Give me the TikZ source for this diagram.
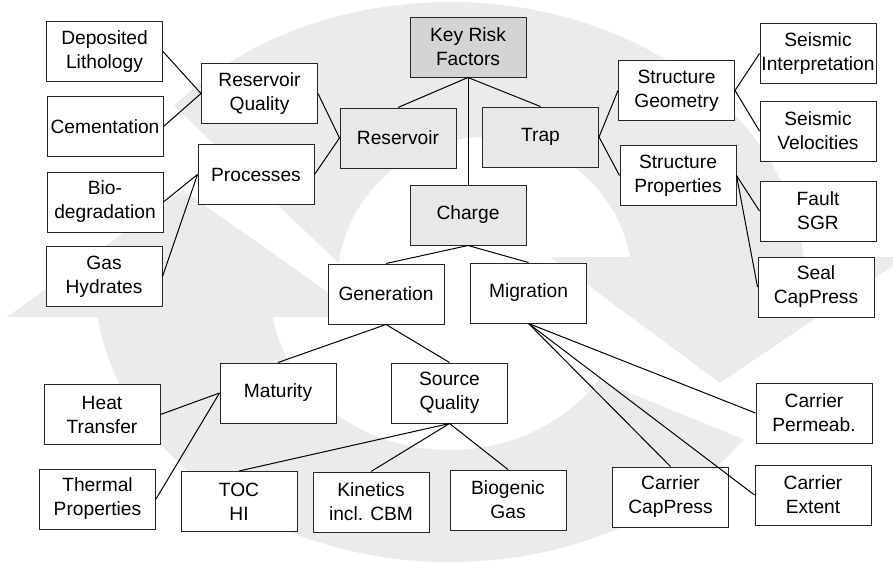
\documentclass[tikz,border=0pt]{standalone}
\usepackage{fontspec}
\setmainfont{Liberation Sans}
\definecolor{bggray}{RGB}{235,235,235}
\definecolor{boxgray}{RGB}{232,232,232}
\definecolor{rootgray}{RGB}{212,212,212}
\begin{document}
\begin{tikzpicture}[x=1pt,y=-1pt,
  box/.style={draw=black!85, line width=1pt, fill=white, minimum width=116pt,
    minimum height=60pt, inner xsep=0pt, inner ysep=2pt, align=center,
    font=\fontsize{19.2}{24}\selectfont},
  lvlone/.style={box, fill=boxgray},
  rootbox/.style={box, fill=rootgray},
  link/.style={line width=1pt, black}]
\useasboundingbox (0,0) rectangle (893,570);
% background double-arrow cycle
\fill[bggray] (174.1,105.8) arc[start angle=-141, end angle=-5.1, x radius=355, y radius=280]
  -- (906,257) -- (720,383) -- (550,257)
  -- (630.3,257) arc[start angle=-10.9, end angle=-171.5, radius=148] -- cycle;
\fill[bggray] (743.6,439.4) arc[start angle=34.2, end angle=172.8, x radius=355, y radius=280]
  -- (7,317) -- (183,190) -- (363,317)
  -- (272.6,317.2) arc[start angle=170.2, end angle=34.3, x radius=180, y radius=160] -- cycle;
% nodes
\node[rootbox] (krf) at (468,47) {Key Risk\\Factors};
\node[lvlone] (res) at (398,138) {Reservoir};
\node[lvlone] (trap) at (540.5,137) {Trap};
\node[lvlone] (charge) at (468,215) {Charge};
\node[box] (dep) at (104.5,51.5) {Deposited\\Lithology};
\node[box] (cem) at (105,126.5) {Cementation};
\node[box] (rq) at (259.5,93.5) {Reservoir\\Quality};
\node[box] (proc) at (256,174.5) {Processes};
\node[box] (bio) at (105,202) {Bio-\\degradation};
\node[box] (gas) at (104,276.5) {Gas\\Hydrates};
\node[box] (sg) at (676.5,90.5) {Structure\\Geometry};
\node[box] (sp) at (678,175.5) {Structure\\Properties};
\node[box] (si) at (818,53.5) {Seismic\\Interpretation};
\node[box] (sv) at (818,131) {Seismic\\Velocities};
\node[box] (fsgr) at (818,211) {Fault\\SGR};
\node[box] (seal) at (816,287) {Seal\\CapPress};
\node[box] (gen) at (386,294) {Generation};
\node[box] (mig) at (528.5,293) {Migration};
\node[box] (mat) at (278,393) {Maturity};
\node[box] (sq) at (449.5,393) {Source\\Quality};
\node[box] (heat) at (102,414.5) {Heat\\Transfer};
\node[box] (therm) at (97.5,499) {Thermal\\Properties};
\node[box] (toc) at (239,501.5) {TOC\\HI};
\node[box] (kin) at (371,502) {Kinetics\\incl. CBM};
\node[box] (biog) at (508,500) {Biogenic\\Gas};
\node[box] (ccp) at (670.5,497) {Carrier\\CapPress};
\node[box] (cext) at (813,495) {Carrier\\Extent};
\node[box] (cperm) at (814,413) {Carrier\\Permeab.};
% connectors
\draw[link] (dep.east) -- (rq.west);
\draw[link] (cem.east) -- (rq.west);
\draw[link] (rq.east) -- (res.west);
\draw[link] (proc.east) -- (res.west);
\draw[link] (bio.east) -- (proc.west);
\draw[link] (gas.east) -- (proc.west);
\draw[link] (res.north) -- (krf.south);
\draw[link] (krf.south) -- (trap.north);
\draw[link] (krf.south) -- (charge.north);
\draw[link] (trap.east) -- (sg.west);
\draw[link] (trap.east) -- (sp.west);
\draw[link] (sg.east) -- (si.west);
\draw[link] (sg.east) -- (sv.west);
\draw[link] (sp.east) -- (fsgr.west);
\draw[link] (sp.east) -- (seal.west);
\draw[link] (charge.south) -- (gen.north);
\draw[link] (charge.south) -- (mig.north);
\draw[link] (gen.south) -- (mat.north);
\draw[link] (gen.south) -- (sq.north);
\draw[link] (mat.west) -- (heat.east);
\draw[link] (mat.west) -- (therm.east);
\draw[link] (sq.south) -- (toc.north);
\draw[link] (sq.south) -- (kin.north);
\draw[link] (sq.south) -- (biog.north);
\draw[link] (mig.south) -- (ccp.north);
\draw[link] (mig.south) -- (cext.west);
\draw[link] (mig.south) -- (cperm.west);
\end{tikzpicture}
\end{document}
